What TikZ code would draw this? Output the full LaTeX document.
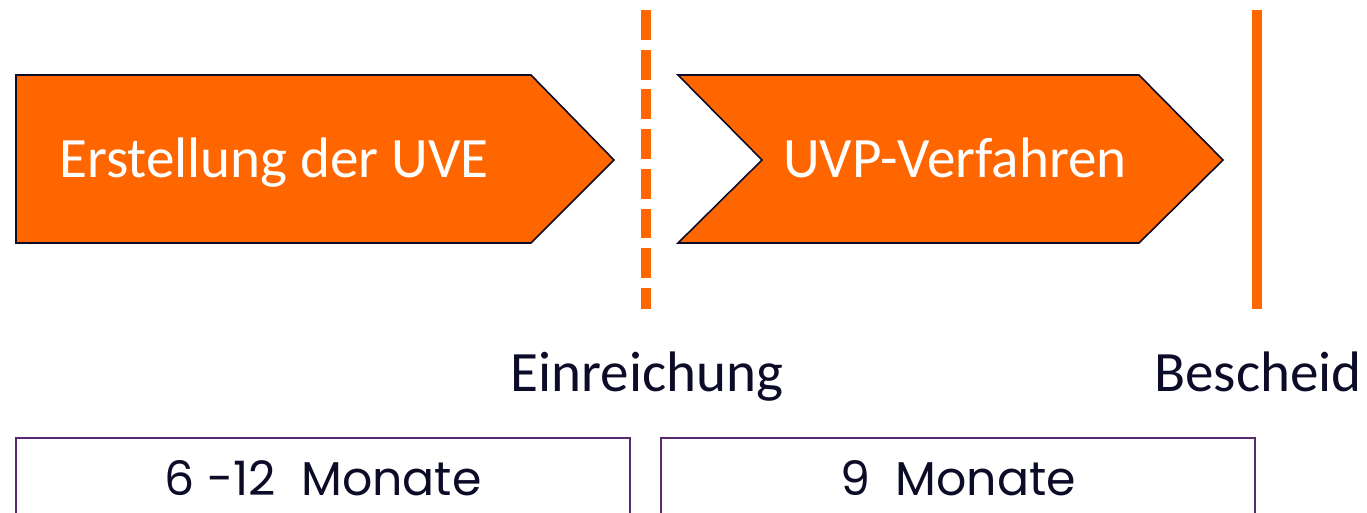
\documentclass[tikz,border=0pt]{standalone}
\usepackage{fontspec}
\setmainfont{Carlito}
\newfontfamily\gothicfont{Poppins}
\usetikzlibrary{positioning}
\definecolor{uvporange}{RGB}{255,102,0}
\definecolor{uvpnavy}{RGB}{12,12,40}
\definecolor{uvppurple}{RGB}{90,40,110}

\begin{document}
\begin{tikzpicture}[
    x=0.02cm, y=-0.02cm,
    phase/.style={draw=uvpnavy, fill=uvporange, line width=0.9pt, line join=miter},
    phasetext/.style={anchor=base, text=white, font=\fontsize{32.5}{38}\selectfont, inner sep=0pt},
    milestone/.style={uvporange, line width=5.6pt},
    milelabel/.style={anchor=base, text=uvpnavy, font=\fontsize{32.5}{38}\selectfont, inner sep=0pt},
    duration/.style={draw=uvppurple, line width=0.8pt, fill=white},
    durtext/.style={anchor=base, text=uvpnavy, font=\gothicfont\fontsize{27}{32}\selectfont, inner sep=0pt}
]
\useasboundingbox (0,0) rectangle (1367,513);
\clip (0,0) rectangle (1367,513);

% phases
\draw[phase] (16,75) -- (531,75) -- (614,160) -- (531,243) -- (16,243) -- cycle;
\draw[phase] (678,75) -- (1139,75) -- (1223,160) -- (1139,243) -- (678,243) -- (762,160) -- cycle;
\node[phasetext] (uve) at (274,178) {Erstellung der UVE};
\node[phasetext] (verfahren) at (955,178) {UVP-Verfahren};

% milestones
\coordinate (einTop) at (646,10);
\coordinate (einBot) at (646,309);
\coordinate (besTop) at (1257,10);
\coordinate (besBot) at (1257,309);
\draw[milestone, dash pattern=on 17pt off 5.6pt] (einTop) -- (einBot);
\draw[milestone] (besTop) -- (besBot);
\node[milelabel] (einreichung) at (647,392) {Einreichung};
\node[milelabel] (bescheid) at (1258,392) {Bescheid};

% durations
\draw[duration] (16,438) rectangle (630,540);
\draw[duration] (661,438) rectangle (1255,540);
\node[durtext] (dauerUve) at (323,496) {6 -12\ \ Monate};
\node[durtext] (dauerVerf) at (958,496) {9\ \ Monate};
\end{tikzpicture}
\end{document}
